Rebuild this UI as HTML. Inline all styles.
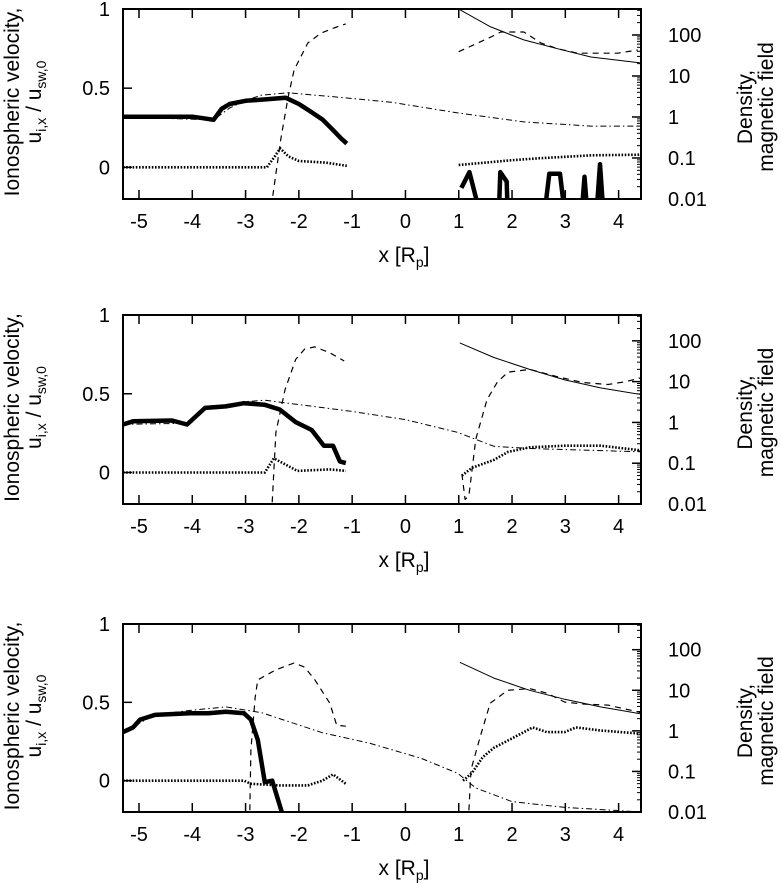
<!DOCTYPE html>
<html><head><meta charset="utf-8"><style>
html,body{margin:0;padding:0;background:#fff;}
svg{display:block;font-family:"Liberation Sans",Arial,sans-serif;}
</style></head><body>
<svg id="fig" width="781" height="884" viewBox="0 0 781 884" xmlns="http://www.w3.org/2000/svg"></svg>
<script>
// ---- shared axes ----
const xTicks = [-5,-4,-3,-2,-1,0,1,2,3,4];
const yTicksLeft = [0,0.5,1];
const yTickLabelsLeft = ["0","0.5","1"];
const yTicksRight = [0.01,0.1,1,10,100];
const yTickLabelsRight = ["0.01","0.1","1","10","100"];

// ---- panel 1 ----
const p1ThickX = [-5.3,-4.6,-4.0,-3.8,-3.6,-3.45,-3.3,-3.0,-2.6,-2.25,-2.0,-1.77,-1.55,-1.4,-1.2,-1.1];
const p1ThickV = [0.32,0.32,0.32,0.31,0.30,0.37,0.40,0.42,0.43,0.44,0.40,0.35,0.30,0.25,0.18,0.15];
const p1SpikeX = [1.05,1.2,1.42,1.75,1.78,1.9,1.92,2.6,2.7,2.9,3.0,3.3,3.36,3.42,3.58,3.65,3.72];
const p1SpikeV = [-0.13,-0.03,-0.32,-0.32,-0.03,-0.09,-0.32,-0.32,-0.04,-0.04,-0.32,-0.32,-0.06,-0.32,-0.32,0.02,-0.32];
const p1DotLX = [-5.3,-2.6,-2.45,-2.35,-2.2,-2.0,-1.5,-1.1];
const p1DotLV = [0,0,0.07,0.12,0.07,0.04,0.03,0.01];
const p1DotRX = [1.0,2.0,2.5,3.5,4.4];
const p1DotRV = [0.015,0.045,0.057,0.076,0.08];
const p1DashLX = [-2.49,-2.34,-2.2,-2.09,-1.83,-1.58,-1.34,-1.12];
const p1DashLV = [0.012,0.28,3.1,14,64,112,148,186];
const p1DashRX = [1.0,1.6,1.79,2.22,2.54,2.86,3.23,3.47,3.98,4.36];
const p1DashRV = [39,89,118,118,64,46,36,36,36,43];
const p1SolidX = [1.0,1.6,2.22,2.86,3.48,4.4];
const p1SolidV = [427,157,76,46,29,21];
const p1DdX = [-5.3,-3.6,-3.3,-3.0,-2.71,-2.2,-1.34,-0.27,0.98,2.22,3.48,4.4];
const p1DdV = [1.0,0.85,1.66,2.5,3.4,3.9,3.1,2.3,1.26,0.76,0.6,0.6];

// ---- panel 2 ----
const p2ThickX = [-5.3,-5.11,-4.38,-4.1,-3.76,-3.37,-3.03,-2.64,-2.36,-2.06,-1.76,-1.53,-1.36,-1.23,-1.12];
const p2ThickV = [0.305,0.325,0.33,0.305,0.41,0.42,0.44,0.43,0.40,0.32,0.27,0.17,0.17,0.07,0.06];
const p2DotLX = [-5.3,-2.64,-2.47,-2.03,-1.42,-1.12];
const p2DotLV = [0,0,0.09,0.01,0.02,0.01];
const p2DotRX = [1.06,1.25,1.66,1.92,2.33,2.99,3.66,4.43];
const p2DotRV = [-0.02,0.03,0.08,0.13,0.16,0.17,0.17,0.14];
const p2DashLX = [-2.5,-2.43,-2.26,-2.06,-1.89,-1.7,-1.42,-1.15];
const p2DashLV = [0.011,0.57,6.3,35,63,71,51,32];
const p2DashRX = [1.06,1.12,1.19,1.32,1.53,1.72,1.92,2.33,2.87,3.33,3.8,4.14,4.44];
const p2DashRV = [0.054,0.013,0.016,0.39,3.6,9.5,17,20,13,9.5,8.5,10,12.6];
const p2SolidX = [1.02,1.66,2.33,2.99,3.66,4.43];
const p2SolidV = [89,39,20,11,7,4.8];
const p2DdX = [-5.3,-4.1,-3.76,-3.03,-2.64,-1.02,0,0.98,1.66,2.33,4.43];
const p2DdV = [0.9,0.95,2.3,3.2,3.5,1.87,1.17,0.57,0.26,0.23,0.19];

// ---- panel 3 ----
const p3ThickX = [-5.3,-5.11,-4.98,-4.7,-4.04,-3.7,-3.37,-3.03,-2.9,-2.77,-2.64,-2.5,-2.33,-2.28];
const p3ThickV = [0.31,0.34,0.39,0.42,0.43,0.43,0.44,0.43,0.39,0.26,-0.01,0.0,-0.19,-0.25];
const p3DotLX = [-5.3,-3.03,-2.9,-2.36,-1.83,-1.56,-1.36,-1.12];
const p3DotLV = [0,0,-0.02,-0.03,-0.03,0.0,0.04,-0.02];
const p3DotRX = [1.08,1.25,1.45,1.66,2.0,2.39,2.65,2.99,3.2,3.66,4.43];
const p3DotRV = [0.0,0.05,0.15,0.21,0.27,0.34,0.31,0.31,0.34,0.32,0.30];
const p3DashLX = [-2.92,-2.9,-2.82,-2.77,-2.43,-2.09,-1.89,-1.7,-1.42,-1.29,-1.12];
const p3DashLV = [0.011,0.34,6.8,18,32,47,37,18,4.8,1.38,1.3];
const p3DashRX = [1.19,1.23,1.4,1.59,1.92,2.33,2.65,2.99,3.33,3.8,4.43];
const p3DashRV = [0.011,0.11,0.7,4.8,10,11,8.5,5.1,4.6,4.3,2.8];
const p3SolidX = [1.02,1.66,2.33,2.99,3.66,4.43];
const p3SolidV = [49,20,10,6,3.9,2.6];
const p3DdX = [-5.3,-4.7,-4.04,-3.37,-2.7,-1.56,-0.68,0.3,0.98,1.32,2.0,2.99,4.43];
const p3DdV = [0.93,2.5,3.2,3.9,2.8,0.9,0.5,0.21,0.09,0.039,0.018,0.013,0.01];

const panels = [
  {top:9, bottom:199, thick:[[p1ThickX,p1ThickV],[p1SpikeX,p1SpikeV]], dot:[[p1DotLX,p1DotLV],[p1DotRX,p1DotRV]],
   dash:[[p1DashLX,p1DashLV],[p1DashRX,p1DashRV]], solid:[[p1SolidX,p1SolidV]], dd:[[p1DdX,p1DdV]]},
  {top:315, bottom:504, thick:[[p2ThickX,p2ThickV]], dot:[[p2DotLX,p2DotLV],[p2DotRX,p2DotRV]],
   dash:[[p2DashLX,p2DashLV],[p2DashRX,p2DashRV]], solid:[[p2SolidX,p2SolidV]], dd:[[p2DdX,p2DdV]]},
  {top:624, bottom:812, thick:[[p3ThickX,p3ThickV]], dot:[[p3DotLX,p3DotLV],[p3DotRX,p3DotRV]],
   dash:[[p3DashLX,p3DashLV],[p3DashRX,p3DashRV]], solid:[[p3SolidX,p3SolidV]], dd:[[p3DdX,p3DdV]]}
];

const NS = "http://www.w3.org/2000/svg";
const svg = document.getElementById('fig');
const L = 123, R = 641;
const XMIN = -5.3, XMAX = 4.42;
function xs(x){ return L + (x - XMIN) / (XMAX - XMIN) * (R - L); }
function mk(tag, attrs, parent){
  const e = document.createElementNS(NS, tag);
  for (const k in attrs) e.setAttribute(k, attrs[k]);
  (parent||svg).appendChild(e);
  return e;
}

panels.forEach((p, i) => {
  const T = p.top, B = p.bottom, H = B - T;
  const yl = v => T + (1 - v) / 1.2 * H;
  const lmax = 2 + Math.log10(430);
  const yr = v => B - (Math.log10(v) + 2) / lmax * H;
  const g = mk('g', {});
  
  
  const cp = mk('clipPath', {id:'clip'+i}, g);
  mk('rect', {x:L, y:T, width:R-L, height:H}, cp);
  const plot = mk('g', {'clip-path':'url(#clip'+i+')'}, g);
  
  

  function line(arrs, scale, style, name){
    arrs.forEach(([X, V]) => {
      let d = '';
      X.forEach((x, k) => { d += (k ? 'L' : 'M') + xs(x).toFixed(1) + ',' + scale(V[k]).toFixed(1); });
      const e = mk('path', Object.assign({d:d, fill:'none', stroke:'#000', 'stroke-linejoin':'round'}, style), plot);
      
      
    });
  }
  line(p.dd, yr, {'stroke-width':1, 'stroke-dasharray':'6,3,1.5,3'}, 'dot-dash-series');
  line(p.solid, yr, {'stroke-width':1}, 'magnetic-field-line');
  line(p.dash, yr, {'stroke-width':1.2, 'stroke-dasharray':'6,5'}, 'density-dashed-line');
  line(p.dot, yl, {'stroke-width':2.6, 'stroke-dasharray':'1.6,1.6', 'stroke-linejoin':'miter'}, 'dotted-velocity-line');
  line(p.thick, yl, {'stroke-width':4.5}, 'ionospheric-velocity-line');

  const fr = mk('rect', {x:L, y:T, width:R-L, height:H, fill:'none', stroke:'#000', 'stroke-width':2}, g);
  
  
  xTicks.forEach(t => {
    const x = xs(t);
    mk('line', {x1:x, y1:B, x2:x, y2:B-9, stroke:'#000', 'stroke-width':1.5}, g);
    mk('line', {x1:x, y1:T, x2:x, y2:T+9, stroke:'#000', 'stroke-width':1.5}, g);
    const tx = mk('text', {x:x, y:B+29, 'font-size':20, 'text-anchor':'middle'}, g);
    tx.textContent = t;
    
    
  });
  yTicksLeft.forEach((t, k) => {
    const y = yl(t);
    mk('line', {x1:L, y1:y, x2:L+9, y2:y, stroke:'#000', 'stroke-width':1.5}, g);
    const tx = mk('text', {x:L-13, y:y+7, 'font-size':20, 'text-anchor':'end'}, g);
    tx.textContent = yTickLabelsLeft[k];
    
    
  });
  yTicksRight.forEach((t, k) => {
    const y = yr(t);
    mk('line', {x1:R, y1:y, x2:R-9, y2:y, stroke:'#000', 'stroke-width':1.5}, g);
    [2,3,4,5,6,7,8,9].forEach(m => {
      const ym = yr(t*m);
      if (ym > T) mk('line', {x1:R, y1:ym, x2:R-4, y2:ym, stroke:'#000', 'stroke-width':1}, g);
    });
    const tx = mk('text', {x:R+27, y:y+7, 'font-size':20, 'text-anchor':'start'}, g);
    tx.textContent = yTickLabelsRight[k];
    
    
  });
  const xt = mk('text', {x:404, y:B+63, 'font-size':21, 'text-anchor':'middle'}, g);
  xt.innerHTML = 'x [R<tspan font-size="14" dy="5">p</tspan><tspan dy="-5">]</tspan>';
  
  
  const cy = (T + B) / 2 - 2;
  const lt = mk('text', {transform:'translate(19,'+cy+') rotate(-90)', 'font-size':21, 'text-anchor':'middle'}, g);
  lt.textContent = 'Ionospheric velocity,';
  
  
  const lt2 = mk('text', {transform:'translate(41,'+cy+') rotate(-90)', 'font-size':21, 'text-anchor':'middle'}, g);
  lt2.innerHTML = 'u<tspan font-size="14" dy="5">i,x</tspan><tspan dy="-5"> / u</tspan><tspan font-size="14" dy="5">sw,0</tspan>';
  
  
  const rt = mk('text', {transform:'translate(752,'+(cy+5)+') rotate(-90)', 'font-size':21, 'text-anchor':'middle'}, g);
  rt.textContent = 'Density,';
  
  
  const rt2 = mk('text', {transform:'translate(773,'+(cy+5)+') rotate(-90)', 'font-size':21, 'text-anchor':'middle'}, g);
  rt2.textContent = 'magnetic field';
  
  
});
</script>
</body></html>
